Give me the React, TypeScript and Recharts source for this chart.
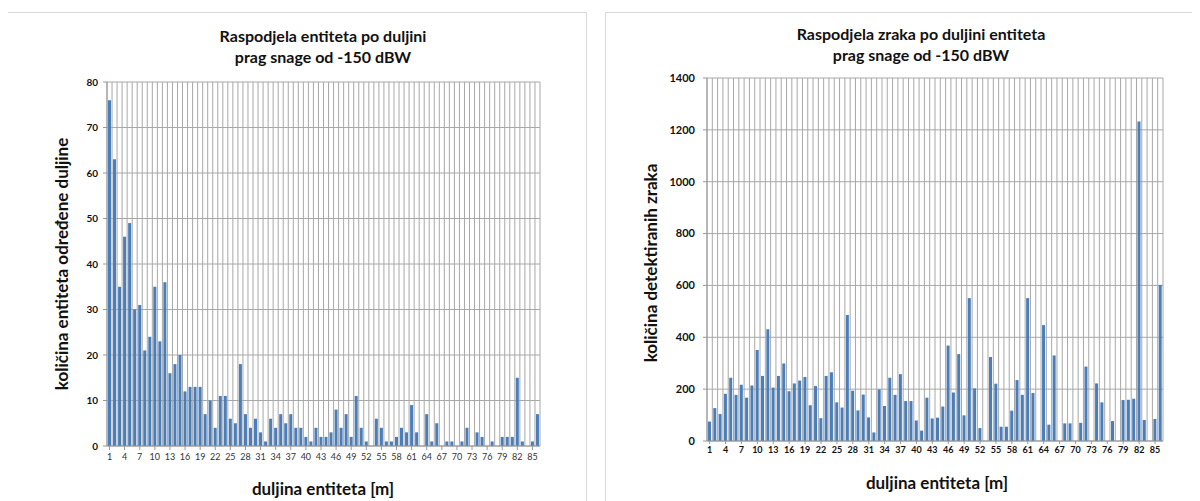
import React from "react";
import { BarChart, Bar, XAxis, YAxis, CartesianGrid } from "recharts";

const categories = [
  "1","2","3","4","5","6","7","8","9","10","11","12","13","14","15","16","17","18","19","20",
  "21","22","23","24","25","26","27","28","29","30","31","32","33","34","35","36","37","38","39","40",
  "41","42","43","44","45","46","47","48","49","50","51","52","53","54","55","56","57","58","59","60",
  "61","62","63","64","65","66","67","68","69","70","71","72","73","74","75","76","77","78","79","80",
  "81","82","83","84","85","86",
];

const entityCounts = [
  76, 63, 35, 46, 49, 30, 31, 21, 24, 35, 23, 36, 16, 18, 20, 12, 13, 13, 13, 7,
  10, 4, 11, 11, 6, 5, 18, 7, 4, 6, 3, 1, 6, 4, 7, 5, 7, 4, 4, 2,
  1, 4, 2, 2, 3, 8, 4, 7, 2, 11, 4, 1, 0, 6, 4, 1, 1, 2, 4, 3,
  9, 3, 0, 7, 1, 5, 0, 1, 1, 0, 1, 4, 0, 3, 2, 0, 1, 0, 2, 2,
  2, 15, 1, 0, 1, 7,
];

const rayCounts = [
  75, 127, 104, 182, 244, 178, 217, 167, 214, 351, 251, 431, 206, 251, 299, 192, 222, 233, 247, 138,
  212, 88, 251, 265, 149, 129, 486, 194, 118, 179, 91, 33, 199, 135, 244, 178, 258, 154, 154, 79,
  40, 167, 87, 90, 133, 368, 187, 335, 99, 551, 203, 50, 0, 324, 221, 55, 55, 117, 235, 178,
  551, 185, 0, 447, 63, 330, 0, 68, 68, 0, 70, 287, 0, 222, 149, 0, 77, 0, 158, 159,
  163, 1232, 81, 0, 85, 602,
];

const leftYTicks = [0, 10, 20, 30, 40, 50, 60, 70, 80];
const rightYTicks = [0, 200, 400, 600, 800, 1000, 1200, 1400];

const leftData = categories.map((c, i) => ({ name: c, value: entityCounts[i] }));
const rightData = categories.map((c, i) => ({ name: c, value: rayCounts[i] }));

const FONT = "Lato, 'Open Sans', sans-serif";
const BAR = "#4a7ebb";
const GRID = "#a8a8a8";

const boundaryGen = ({ offset }: any) => {
  const n = categories.length;
  const out: number[] = [];
  for (let i = 0; i <= n; i++) out.push(offset.left + (i * offset.width) / n);
  return out;
};

const abs = (x: number, y: number): React.CSSProperties => ({
  position: "absolute",
  left: x - 8,
  top: y - 8,
});

const Title = ({ cx, y, lines }: { cx: number; y: number; lines: string[] }) => (
  <div
    style={{
      ...abs(cx, y),
      transform: "translateX(-50%)",
      whiteSpace: "nowrap",
      textAlign: "center",
      fontFamily: FONT,
      fontWeight: 700,
      fontSize: 16,
      lineHeight: "21px",
      color: "#111",
    }}
  >
    {lines.map((l) => (
      <div key={l}>{l}</div>
    ))}
  </div>
);

const AxisTitle = ({ cx, cy, text, rotate }: { cx: number; cy: number; text: string; rotate?: boolean }) => (
  <div
    style={{
      ...abs(cx, cy),
      transform: `translate(-50%, -50%)${rotate ? " rotate(-90deg)" : ""}`,
      whiteSpace: "nowrap",
      fontFamily: FONT,
      fontWeight: 700,
      fontSize: 17,
      lineHeight: "20px",
      color: "#111",
    }}
  >
    {text}
  </div>
);

export default function App() {
  return (
    <div style={{ position: "relative", width: 1184, height: 493, overflow: "hidden", background: "#fff" }}>
      {/* left card */}
      <div
        style={{
          ...abs(7, 12),
          width: 580,
          height: 500,
          border: "1px solid #d9d9d9",
          boxSizing: "border-box",
        }}
      />
      <div style={{ ...abs(7, 12) }}>
        <BarChart
          width={581}
          height={489}
          data={leftData}
          margin={{ top: 70, right: 48, bottom: 0, left: 0 }}
          barSize={3}
        >
          <CartesianGrid stroke={GRID} verticalCoordinatesGenerator={boundaryGen} />
          <XAxis
            dataKey="name"
            interval={2}
            height={55}
            tick={{ fontSize: 9, fill: "#333", fontFamily: FONT }}
            tickLine={{ stroke: "#999" }}
            tickSize={4}
            tickMargin={4}
            axisLine={{ stroke: "#999" }}
          />
          <YAxis
            width={100}
            domain={[0, 80]}
            ticks={leftYTicks}
            tick={{ fontSize: 10, fill: "#111", fontWeight: 700, fontFamily: FONT }}
            tickLine={{ stroke: "#999" }}
            tickSize={4}
            tickMargin={5}
            axisLine={{ stroke: "#999" }}
          />
          <Bar dataKey="value" fill={BAR} isAnimationActive={false} />
        </BarChart>
      </div>
      <Title cx={323} y={25} lines={["Raspodjela entiteta po duljini", "prag snage od -150 dBW"]} />
      <AxisTitle cx={62} cy={264} text="količina entiteta određene duljine" rotate />
      <AxisTitle cx={323} cy={489} text="duljina entiteta [m]" />

      {/* right card */}
      <div
        style={{
          ...abs(605, 12),
          width: 590,
          height: 500,
          border: "1px solid #d9d9d9",
          boxSizing: "border-box",
        }}
      />
      <div style={{ ...abs(605, 12) }}>
        <BarChart
          width={590}
          height={489}
          data={rightData}
          margin={{ top: 66, right: 32, bottom: 0, left: 0 }}
          barSize={3}
        >
          <CartesianGrid stroke={GRID} verticalCoordinatesGenerator={boundaryGen} />
          <XAxis
            dataKey="name"
            interval={2}
            height={60}
            tick={{ fontSize: 9, fill: "#111", fontWeight: 700, fontFamily: FONT }}
            tickLine={{ stroke: "#999" }}
            tickSize={3}
            tickMargin={3}
            axisLine={{ stroke: "#999" }}
          />
          <YAxis
            width={102}
            domain={[0, 1400]}
            ticks={rightYTicks}
            tick={{ fontSize: 11, fill: "#111", fontWeight: 700, fontFamily: FONT }}
            tickLine={{ stroke: "#999" }}
            tickSize={4}
            tickMargin={8}
            axisLine={{ stroke: "#999" }}
          />
          <Bar dataKey="value" fill={BAR} isAnimationActive={false} />
        </BarChart>
      </div>
      <Title cx={921} y={23} lines={["Raspodjela zraka po duljini entiteta", "prag snage od -150 dBW"]} />
      <AxisTitle cx={651} cy={263} text="količina detektiranih zraka" rotate />
      <AxisTitle cx={937} cy={483} text="duljina entiteta [m]" />
    </div>
  );
}
